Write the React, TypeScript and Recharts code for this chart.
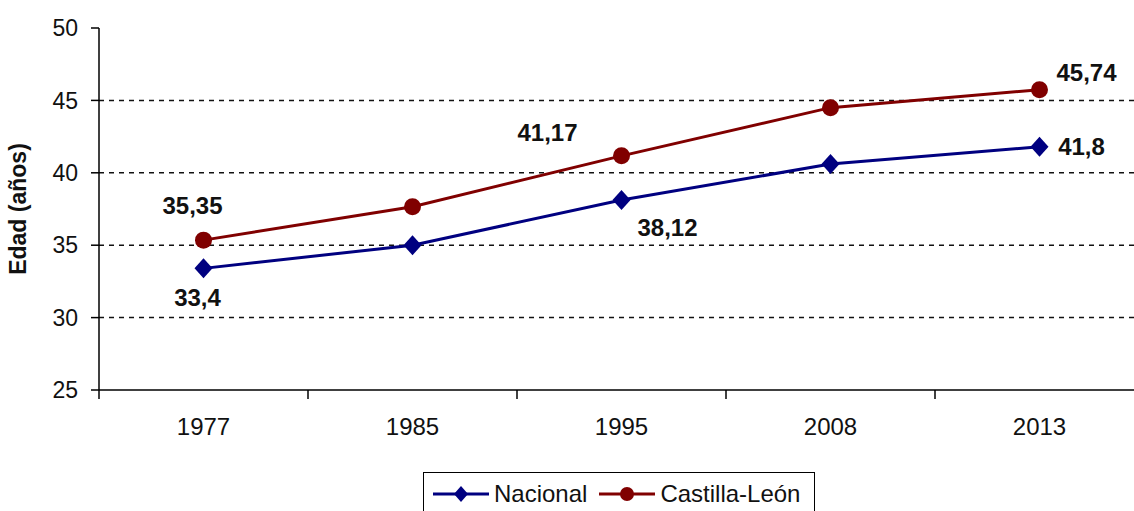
import React from 'react';
import { LineChart, Line, XAxis, YAxis, ReferenceLine, LabelList } from 'recharts';

const years = ['1977', '1985', '1995', '2008', '2013'];
const nacional = [33.4, 35.0, 38.12, 40.6, 41.8];
const castilla = [35.35, 37.65, 41.17, 44.5, 45.74];
const nacionalLabels = ['33,4', '', '38,12', '', '41,8'];
const castillaLabels = ['35,35', '', '41,17', '', '45,74'];
const yTicks = [25, 30, 35, 40, 45, 50];
const gridValues = [30, 35, 40, 45];

const NAVY = '#000080';
const MAROON = '#800000';
const FONT = '"Liberation Sans", Arial, sans-serif';

const CHART_W = 1160;
const CHART_H = 511;
const Y_AXIS_W = 99;
const MARGIN = { top: 28, right: 16, bottom: 71, left: 0 };
const BAND = (CHART_W - MARGIN.right - MARGIN.left - Y_AXIS_W) / years.length;

const data = years.map((year, i) => ({
  year,
  nacional: nacional[i],
  castilla: castilla[i],
  nacionalLabel: nacionalLabels[i],
  castillaLabel: castillaLabels[i],
}));

// label offsets from the point, per index
const nacionalOffsets: Record<number, [number, number]> = { 0: [-6, 29], 2: [46, 27], 4: [42, 0] };
const castillaOffsets: Record<number, [number, number]> = { 0: [-11, -35], 2: [-74, -23], 4: [47, -17] };

const Diamond = ({ cx, cy, fill }: { cx: number; cy: number; fill: string }) => (
  <polygon points={`${cx},${cy - 10} ${cx + 9},${cy} ${cx},${cy + 10} ${cx - 9},${cy}`} fill={fill} />
);

const makeLabel = (offsets: Record<number, [number, number]>) => (props: any) => {
  const { x, y, value, index } = props;
  if (!value || !offsets[index]) return null;
  const [dx, dy] = offsets[index];
  return (
    <text
      x={x + dx}
      y={y + dy}
      textAnchor="middle"
      dominantBaseline="central"
      fontFamily={FONT}
      fontWeight="bold"
      fontSize={24}
      fill="#111"
    >
      {value}
    </text>
  );
};

const YearTick = (props: any) => {
  const { x, y, payload } = props;
  const half = BAND / 2;
  return (
    <g>
      <line x1={x - half} x2={x - half} y1={y} y2={y + 9} stroke="#000" strokeWidth={1.5} />
      <text x={x} y={y + 45} textAnchor="middle" fontFamily={FONT} fontSize={24} fill="#111">
        {payload.value}
      </text>
    </g>
  );
};

const LegendIcon = ({ color, shape }: { color: string; shape: 'diamond' | 'circle' }) => (
  <svg width={56} height={22} style={{ display: 'block' }}>
    <line x1={0} x2={56} y1={11} y2={11} stroke={color} strokeWidth={3} />
    {shape === 'diamond' ? (
      <polygon points="28,3 35,11 28,19 21,11" fill={color} />
    ) : (
      <circle cx={28} cy={11} r={7} fill={color} />
    )}
  </svg>
);

export default function App() {
  return (
    <div
      style={{
        position: 'absolute',
        left: 0,
        top: 0,
        width: 1134,
        height: 511,
        overflow: 'hidden',
        background: '#fff',
      }}
    >
      <LineChart width={CHART_W} height={CHART_H} data={data} margin={MARGIN}>
        <XAxis
          dataKey="year"
          scale="band"
          axisLine={{ stroke: '#000', strokeWidth: 1.5 }}
          tickLine={false}
          tickSize={0}
          tickMargin={0}
          height={50}
          tick={<YearTick />}
          interval={0}
        />
        <YAxis
          domain={[25, 50]}
          ticks={yTicks}
          width={Y_AXIS_W}
          axisLine={{ stroke: '#000', strokeWidth: 1.5 }}
          tickLine={{ stroke: '#000', strokeWidth: 1.5 }}
          tickSize={8}
          tickMargin={13}
          tick={{ fontFamily: FONT, fontSize: 23, fill: '#111' }}
          label={{
            content: (p: any) => {
              const vb = p.viewBox || {};
              const cy = (vb.y ?? 28) + (vb.height ?? 362) / 2;
              return (
                <text
                  x={18}
                  y={cy}
                  transform={`rotate(-90 18 ${cy})`}
                  textAnchor="middle"
                  dominantBaseline="central"
                  fontFamily={FONT}
                  fontWeight="bold"
                  fontSize={23}
                  fill="#111"
                >
                  Edad (años)
                </text>
              );
            },
          }}
        />
        {gridValues.map((v) => (
          <ReferenceLine key={v} y={v} stroke="#111" strokeWidth={1.5} strokeDasharray="5 5" />
        ))}
        <Line
          type="linear"
          dataKey="nacional"
          stroke={NAVY}
          strokeWidth={3}
          isAnimationActive={false}
          dot={(p: any) => <Diamond key={`n${p.index}`} cx={p.cx} cy={p.cy} fill={NAVY} />}
          activeDot={false}
        >
          <LabelList dataKey="nacionalLabel" content={makeLabel(nacionalOffsets)} />
        </Line>
        <Line
          type="linear"
          dataKey="castilla"
          stroke={MAROON}
          strokeWidth={3}
          isAnimationActive={false}
          dot={(p: any) => <circle key={`c${p.index}`} cx={p.cx} cy={p.cy} r={8.5} fill={MAROON} />}
          activeDot={false}
        >
          <LabelList dataKey="castillaLabel" content={makeLabel(castillaOffsets)} />
        </Line>
      </LineChart>
      <div
        style={{
          position: 'absolute',
          left: 423,
          top: 472,
          width: 392,
          height: 50,
          border: '1px solid #000',
          display: 'flex',
          alignItems: 'flex-start',
          paddingTop: 8,
          boxSizing: 'border-box',
          fontFamily: FONT,
          fontSize: 24,
          color: '#111',
          lineHeight: '26px',
        }}
      >
        <div style={{ marginLeft: 9, marginTop: 2 }}>
          <LegendIcon color={NAVY} shape="diamond" />
        </div>
        <span style={{ marginLeft: 5 }}>Nacional</span>
        <div style={{ marginLeft: 12, marginTop: 2 }}>
          <LegendIcon color={MAROON} shape="circle" />
        </div>
        <span style={{ marginLeft: 5 }}>Castilla-León</span>
      </div>
    </div>
  );
}
